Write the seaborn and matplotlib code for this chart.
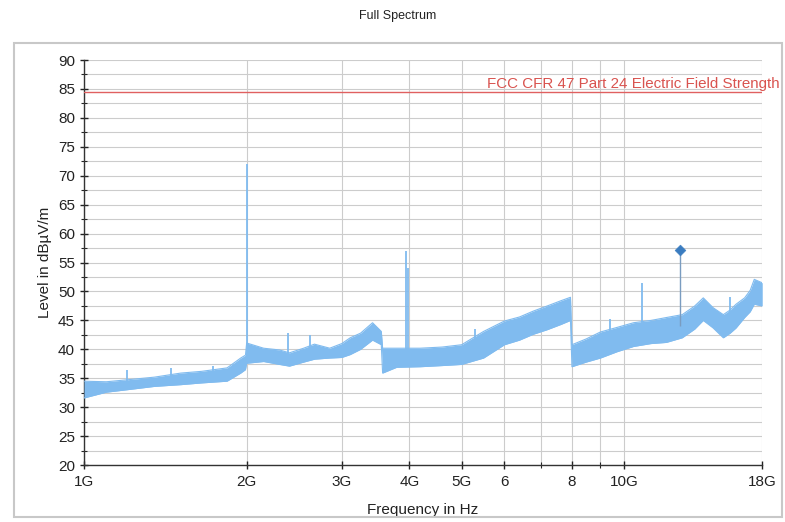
import matplotlib
matplotlib.use("Agg")
import matplotlib.pyplot as plt
from matplotlib.patches import Rectangle
from matplotlib.ticker import FixedLocator, NullFormatter, MultipleLocator
import seaborn as sns
import pandas as pd

# spectrum envelope (GHz, dBuV/m)
freq_ghz = [1.00, 1.10, 1.22, 1.35, 1.51, 1.65, 1.84, 1.95, 1.99,
            2.00, 2.15, 2.30, 2.40, 2.55, 2.67, 2.85, 3.00, 3.11, 3.25, 3.42, 3.55,
            3.57, 3.79, 4.19, 4.60, 5.00, 5.49, 6.00, 6.40, 6.78, 7.20, 7.63, 7.95,
            8.00, 8.50, 9.03, 9.70, 10.4, 11.2, 11.96, 12.8, 13.5, 14.0, 14.6, 15.25,
            15.7, 16.1, 16.7, 17.1, 17.4, 18.0]
level_low = [31.6, 32.6, 33.1, 33.6, 33.9, 34.2, 34.5, 35.9, 36.5,
             37.6, 37.9, 37.4, 37.1, 37.8, 38.3, 38.5, 38.6, 39.1, 40.0, 41.6, 40.8,
             35.9, 36.9, 37.0, 37.2, 37.4, 38.5, 40.8, 41.6, 42.6, 43.4, 44.3, 45.0,
             37.0, 37.8, 38.5, 39.6, 40.5, 41.0, 41.2, 42.0, 43.5, 45.0, 43.7, 42.0,
             42.8, 43.7, 45.5, 46.5, 47.8, 47.5]
level_high = [34.5, 34.4, 34.8, 35.2, 35.9, 36.2, 36.8, 38.5, 39.0,
              41.1, 40.2, 39.9, 39.4, 40.2, 40.9, 40.2, 41.0, 42.0, 42.8, 44.6, 43.1,
              40.2, 40.2, 40.2, 40.4, 40.8, 43.1, 44.9, 45.6, 46.6, 47.5, 48.4, 49.0,
              40.8, 41.8, 43.0, 43.8, 44.6, 45.0, 45.5, 46.0, 47.5, 48.9, 47.2, 46.0,
              46.8, 47.8, 48.9, 50.2, 52.1, 51.5]

# narrow spikes
spike_freq = [1.20, 1.45, 1.73, 2.0, 2.39, 2.62, 3.95, 3.97, 5.30, 9.40, 10.8, 15.7]
spike_base = [34.0, 35.0, 35.5, 38.0, 39.0, 39.0, 37.0, 37.0, 40.0, 42.0, 42.0, 43.0]
spike_top = [36.5, 36.8, 37.2, 72.0, 42.8, 42.5, 57.0, 54.0, 43.5, 45.2, 51.5, 49.0]

# peak marker
peak_freq = [12.7]
peak_level = [57.2]
peak_base = [44.0]

limit_level = 84.5
limit_label = "FCC CFR 47 Part 24 Electric Field Strength"

xtick_vals = [1, 2, 3, 4, 5, 6, 8, 10, 18]
xtick_labels = ["1G", "2G", "3G", "4G", "5G", "6", "8", "10G", "18G"]
xminor_vals = [7, 9]

sns.set_theme(style="white")
plt.rcParams['font.family'] = ['Liberation Sans', 'DejaVu Sans']

band_color = "#80bbef"
grid_color = "#cccccc"

fig = plt.figure(figsize=(7.85, 5.22), dpi=100)
ax = fig.add_axes([0.107, 0.109, 0.864, 0.776])

df = pd.DataFrame({"freq": freq_ghz, "low": level_low, "high": level_high})
ax.fill_between(df["freq"], df["low"], df["high"], color=band_color, lw=0, zorder=3)
sns.lineplot(data=df, x="freq", y="low", ax=ax, color=band_color, lw=0.8, zorder=3)
sns.lineplot(data=df, x="freq", y="high", ax=ax, color=band_color, lw=0.8, zorder=3)

ax.vlines(spike_freq, spike_base, spike_top, color=band_color, lw=1.3, zorder=3)

# limit line
ax.axhline(limit_level, color="#e06060", lw=1, zorder=4)
ax.text(5.58, limit_level + 0.2, limit_label, color="#d9534f", fontsize=10.9,
        va="bottom", ha="left", clip_on=False)

# peak marker with stem
ax.vlines(peak_freq, peak_base, peak_level, color="#7a9cc0", lw=1, zorder=4)
sns.scatterplot(x=peak_freq, y=peak_level, ax=ax, marker="D", s=30,
                color="#3a7cc0", edgecolor="#3a7cc0", zorder=5)

ax.set_xscale("log")
ax.set_xlim(1, 18)
ax.set_ylim(20, 90)
ax.set_xticks(xtick_vals)
ax.set_xticklabels(xtick_labels)
ax.xaxis.set_minor_locator(FixedLocator(xminor_vals))
ax.xaxis.set_minor_formatter(NullFormatter())
ax.yaxis.set_major_locator(MultipleLocator(5))
ax.yaxis.set_minor_locator(MultipleLocator(2.5))

ax.grid(True, which="both", color=grid_color, lw=0.8, zorder=0)
ax.set_axisbelow(True)

for s in ["top", "right"]:
    ax.spines[s].set_visible(False)
ax.spines["left"].set_color("#333333")
ax.spines["bottom"].set_color("#333333")
ax.spines["left"].set_linewidth(1)
ax.spines["bottom"].set_linewidth(1)

ax.tick_params(axis="both", which="major", direction="inout", length=6, width=1,
               labelsize=11, colors="#222222", left=True, bottom=True)
ax.tick_params(axis="both", which="minor", direction="inout", length=4, width=0.8,
               left=True, bottom=True)
ax.tick_params(axis="x", which="major", pad=4)

ax.set_xlabel("Frequency in Hz", fontsize=11, color="#222222", labelpad=10)
ax.set_ylabel("Level in dBµV/m", fontsize=11, color="#222222", labelpad=4)

fig.text(0.506, 0.97, "Full Spectrum", ha="center", va="center", fontsize=9, color="#222222")

# outer frame around the plot area
fig.patches.append(Rectangle((0.018, 0.01), 0.978, 0.908, transform=fig.transFigure,
                             fill=False, edgecolor="#c8c8c8", lw=1.5, zorder=0))

fig.savefig("out.png", dpi=100)
